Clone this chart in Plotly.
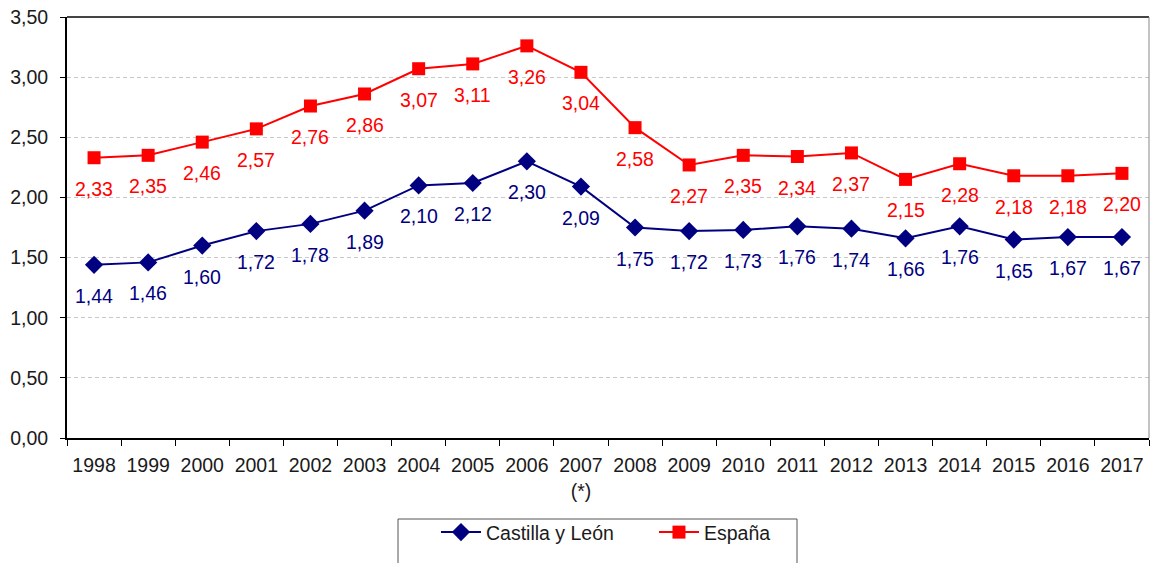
import plotly.graph_objects as go

years = ["1998", "1999", "2000", "2001", "2002", "2003", "2004", "2005", "2006", "2007<br>(*)",
         "2008", "2009", "2010", "2011", "2012", "2013", "2014", "2015", "2016", "2017"]
castilla = [1.44, 1.46, 1.60, 1.72, 1.78, 1.89, 2.10, 2.12, 2.30, 2.09,
            1.75, 1.72, 1.73, 1.76, 1.74, 1.66, 1.76, 1.65, 1.67, 1.67]
espana = [2.33, 2.35, 2.46, 2.57, 2.76, 2.86, 3.07, 3.11, 3.26, 3.04,
          2.58, 2.27, 2.35, 2.34, 2.37, 2.15, 2.28, 2.18, 2.18, 2.20]
y_ticks = [0, 0.5, 1.0, 1.5, 2.0, 2.5, 3.0, 3.5]

NAVY = "#000080"
RED = "#FF0000"
FONT = "Arial, Liberation Sans, sans-serif"
TXT = "#1a1a1a"
FS = 19.5

xpos = list(range(len(years)))
boundaries = [i - 0.5 for i in range(len(years) + 1)]

def fmt(v):
    return f"{v:.2f}".replace(".", ",")

fig = go.Figure()
fig.add_trace(go.Scatter(x=xpos, y=castilla, name="Castilla y León", mode="lines+markers",
                         line=dict(color=NAVY, width=2),
                         marker=dict(symbol="diamond", size=14, color=NAVY)))
fig.add_trace(go.Scatter(x=xpos, y=espana, name="España", mode="lines+markers",
                         line=dict(color=RED, width=2),
                         marker=dict(symbol="square", size=13, color=RED)))

annotations = []
for series, color in ((castilla, NAVY), (espana, RED)):
    for x, v in zip(xpos, series):
        annotations.append(dict(x=x, y=v, xref="x", yref="y", text=fmt(v), showarrow=False,
                                yshift=-31, font=dict(color=color, size=FS, family=FONT)))

fig.update_layout(
    width=1154, height=563,
    margin=dict(l=67, r=5, t=17, b=125, autoexpand=False),
    paper_bgcolor="white", plot_bgcolor="white",
    separators=",.",
    font=dict(family=FONT, size=FS, color=TXT),
    annotations=annotations,
    showlegend=True,
    legend=dict(orientation="h", x=0.5425, xanchor="center", y=-0.178, yanchor="top",
                font=dict(size=FS, color=TXT, family=FONT),
                bgcolor="rgba(0,0,0,0)", borderwidth=0, itemwidth=40,
                entrywidth=163),
    shapes=[dict(type="rect", xref="paper", yref="paper",
                 x0=(398 - 67) / 1082, x1=(797 - 67) / 1082,
                 y0=(438 - 575) / 421, y1=(438 - 519) / 421,
                 line=dict(color="#555555", width=1), fillcolor="rgba(0,0,0,0)")],
)
fig.update_xaxes(range=[-0.5, len(years) - 0.5], tickvals=xpos, ticktext=years,
                 automargin=False, ticklabeloverflow="allow",
                 showline=True, linecolor="#000000", linewidth=2, ticks="", showgrid=False,
                 zeroline=False, tickangle=0, tickfont=dict(size=FS, color=TXT),
                 ticklabelstandoff=9,
                 minor=dict(tickvals=boundaries, ticks="outside", ticklen=6,
                            tickcolor="#000000", showgrid=False))
fig.update_yaxes(range=[0, 3.5], tickvals=y_ticks, tickformat=".2f", showline=True,
                 automargin=False, ticklabeloverflow="allow",
                 linecolor="#000000", linewidth=2, ticks="outside", ticklen=5,
                 tickcolor="#000000", showgrid=True, gridcolor="#c8c8c8",
                 griddash="4px,3px",
                 gridwidth=1, zeroline=False, tickfont=dict(size=FS, color=TXT),
                 ticklabelstandoff=8)
fig.add_shape(type="line", xref="paper", yref="paper", x0=0, x1=1, y0=1, y1=1,
              line=dict(color="#444444", width=2))
fig.add_shape(type="line", xref="paper", yref="paper", x0=1, x1=1, y0=0, y1=1,
              line=dict(color="#888888", width=1))

# remove the browser's default 8px body margin so the figure fills the window exactly
fig.write_html("out.html", config={"displayModeBar": False},
               post_script="document.body.style.margin='0';")
